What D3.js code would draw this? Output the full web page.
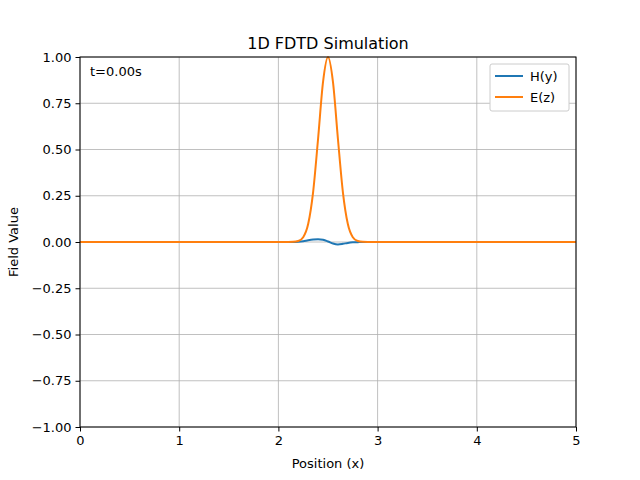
<!DOCTYPE html><html><head><meta charset="utf-8"><script src="https://cdn.jsdelivr.net/npm/d3@7"></script>
<style>body{margin:0;background:#fff}text{font-family:"DejaVu Sans",sans-serif}</style></head><body><svg id="c" width="640" height="480"></svg>
<script>
const posX=[0,2.1,2.15,2.2,2.25,2.3,2.35,2.4,2.45,2.5,2.55,2.6,2.65,2.7,2.75,2.8,2.85,2.9,5];
const ezVals=[0,0,0.0008,0.005,0.026,0.097,0.27,0.558,0.865,1,0.865,0.558,0.27,0.097,0.026,0.005,0.0008,0,0];
const hyVals=[0,0,0,0.001,0.004,0.009,0.013,0.015,0.012,0.003,-0.008,-0.013,-0.01,-0.005,-0.002,-0.001,0,0,0];
const xTicks=[0,1,2,3,4,5];
const yTicks=[-1,-0.75,-0.5,-0.25,0,0.25,0.5,0.75,1];
const svg=d3.select("#c");
const L=80,R=576,T=57,B=427;
const x=d3.scaleLinear().domain([0,5]).range([L,R]);
const y=d3.scaleLinear().domain([-1,1]).range([B,T]);
const g=svg.append("g");
xTicks.forEach(t=>g.append("line").attr("x1",x(t)).attr("x2",x(t)).attr("y1",T).attr("y2",B).attr("stroke","#b0b0b0").attr("stroke-width",0.8));
yTicks.forEach(t=>g.append("line").attr("y1",y(t)).attr("y2",y(t)).attr("x1",L).attr("x2",R).attr("stroke","#b0b0b0").attr("stroke-width",0.8));
const line=d3.line().x(d=>x(d[0])).y(d=>y(d[1])).curve(d3.curveMonotoneX);
svg.append("path").attr("d",line(posX.map((v,i)=>[v,hyVals[i]]))).attr("fill","none").attr("stroke","#1f77b4").attr("stroke-width",2);
svg.append("path").attr("d",line(posX.map((v,i)=>[v,ezVals[i]]))).attr("fill","none").attr("stroke","#ff7f0e").attr("stroke-width",2);
svg.append("rect").attr("x",L).attr("y",T).attr("width",R-L).attr("height",B-T).attr("fill","none").attr("stroke","#000").attr("stroke-width",1);
const xa=svg.append("g").attr("transform",`translate(0,${B})`).call(d3.axisBottom(x).tickValues(xTicks).tickFormat(d3.format("d")).tickSize(4.5).tickPadding(4));
const ya=svg.append("g").attr("transform",`translate(${L},0)`).call(d3.axisLeft(y).tickValues(yTicks).tickFormat(d3.format(".2f")).tickSize(4.5).tickPadding(4));
[xa,ya].forEach(a=>{a.select(".domain").remove();a.selectAll("text").attr("font-size",13).attr("fill","#000").style("font-family","DejaVu Sans");a.selectAll("line").attr("stroke","#000");});
svg.append("text").attr("x",328).attr("y",49).attr("text-anchor","middle").attr("font-size",16).text("1D FDTD Simulation");
svg.append("text").attr("x",328).attr("y",468).attr("text-anchor","middle").attr("font-size",13).text("Position (x)");
svg.append("text").attr("transform","translate(18,242) rotate(-90)").attr("text-anchor","middle").attr("font-size",13).text("Field Value");
svg.append("text").attr("x",90).attr("y",76).attr("font-size",13).text("t=0.00s");
const lg=svg.append("g");
lg.append("rect").attr("x",490).attr("y",64).attr("width",79).attr("height",47).attr("rx",2).attr("fill","#fff").attr("stroke","#ccc");
[["H(y)","#1f77b4",76],["E(z)","#ff7f0e",97]].forEach(([n,c,yy])=>{
lg.append("line").attr("x1",495).attr("x2",523).attr("y1",yy).attr("y2",yy).attr("stroke",c).attr("stroke-width",2);
lg.append("text").attr("x",530).attr("y",yy+4.5).attr("font-size",13).text(n);});
</script></body></html>
